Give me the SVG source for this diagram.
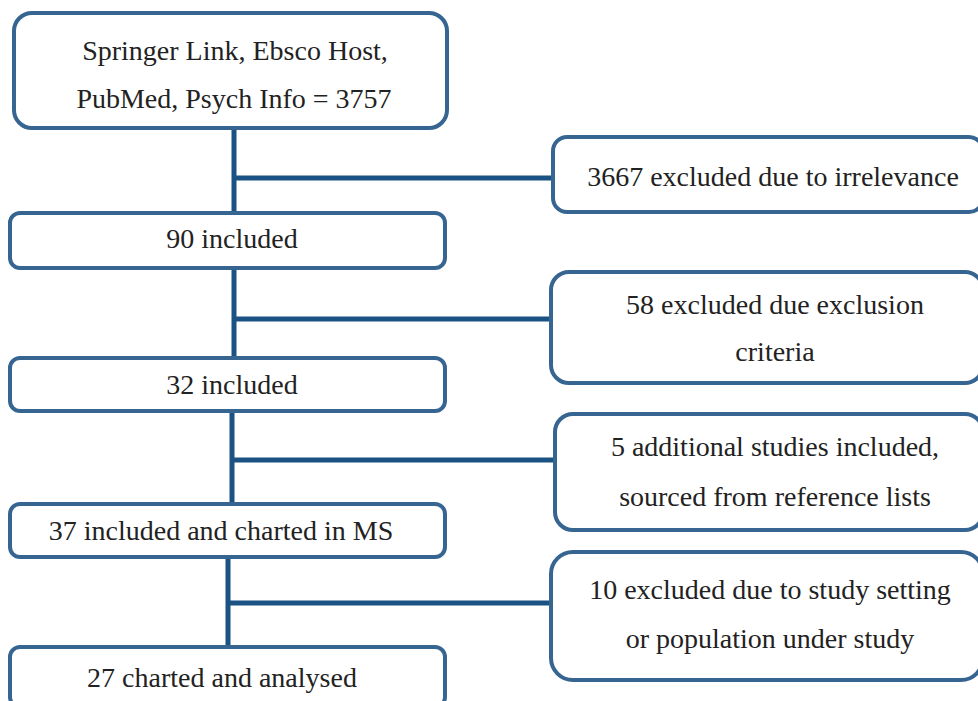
<svg xmlns="http://www.w3.org/2000/svg" width="978" height="701" viewBox="0 0 978 701">
<style>
.box{fill:#fff;stroke:#376591;stroke-width:4}
.t{font-family:'Liberation Serif','Times New Roman',serif;font-size:28px;fill:#222;text-anchor:middle}
.c{stroke:#1b5284;stroke-width:5;fill:none}
</style>
<rect width="978" height="701" fill="#fff"/>
<g id="connectors">
<path class="c" d="M234 128V213M234 178H553"/>
<path class="c" d="M234 268V358M234 319H551"/>
<path class="c" d="M232 412V505M232 460H555"/>
<path class="c" d="M228 557V647M228 603H551"/>
</g>
<g id="n1"><rect class="box" x="14" y="13" width="433" height="115" rx="18"/>
<text class="t" x="235" y="60">Springer Link, Ebsco Host,</text>
<text class="t" x="234" y="108">PubMed, Psych Info = 3757</text></g>
<g id="n2"><rect class="box" x="553" y="137" width="430" height="75" rx="14"/>
<text class="t" x="773" y="186">3667 excluded due to irrelevance</text></g>
<g id="n3"><rect class="box" x="10" y="213" width="435" height="55" rx="10"/>
<text class="t" x="232" y="248">90 included</text></g>
<g id="n4"><rect class="box" x="551" y="272" width="432" height="111" rx="18"/>
<text class="t" x="775" y="314">58 excluded due exclusion</text>
<text class="t" x="775" y="361">criteria</text></g>
<g id="n5"><rect class="box" x="10" y="358" width="435" height="53" rx="10"/>
<text class="t" x="232" y="394">32 included</text></g>
<g id="n6"><rect class="box" x="555" y="414" width="428" height="116" rx="18"/>
<text class="t" x="775" y="456">5 additional studies included,</text>
<text class="t" x="775" y="506">sourced from reference lists</text></g>
<g id="n7"><rect class="box" x="10" y="504" width="435" height="53" rx="10"/>
<text class="t" x="221" y="540">37 included and charted in MS</text></g>
<g id="n8"><rect class="box" x="551" y="552" width="432" height="128" rx="22"/>
<text class="t" x="770" y="599">10 excluded due to study setting</text>
<text class="t" x="770" y="648">or population under study</text></g>
<g id="n9"><rect class="box" x="10" y="647" width="435" height="60" rx="10"/>
<text class="t" x="222" y="687">27 charted and analysed</text></g>
</svg>
